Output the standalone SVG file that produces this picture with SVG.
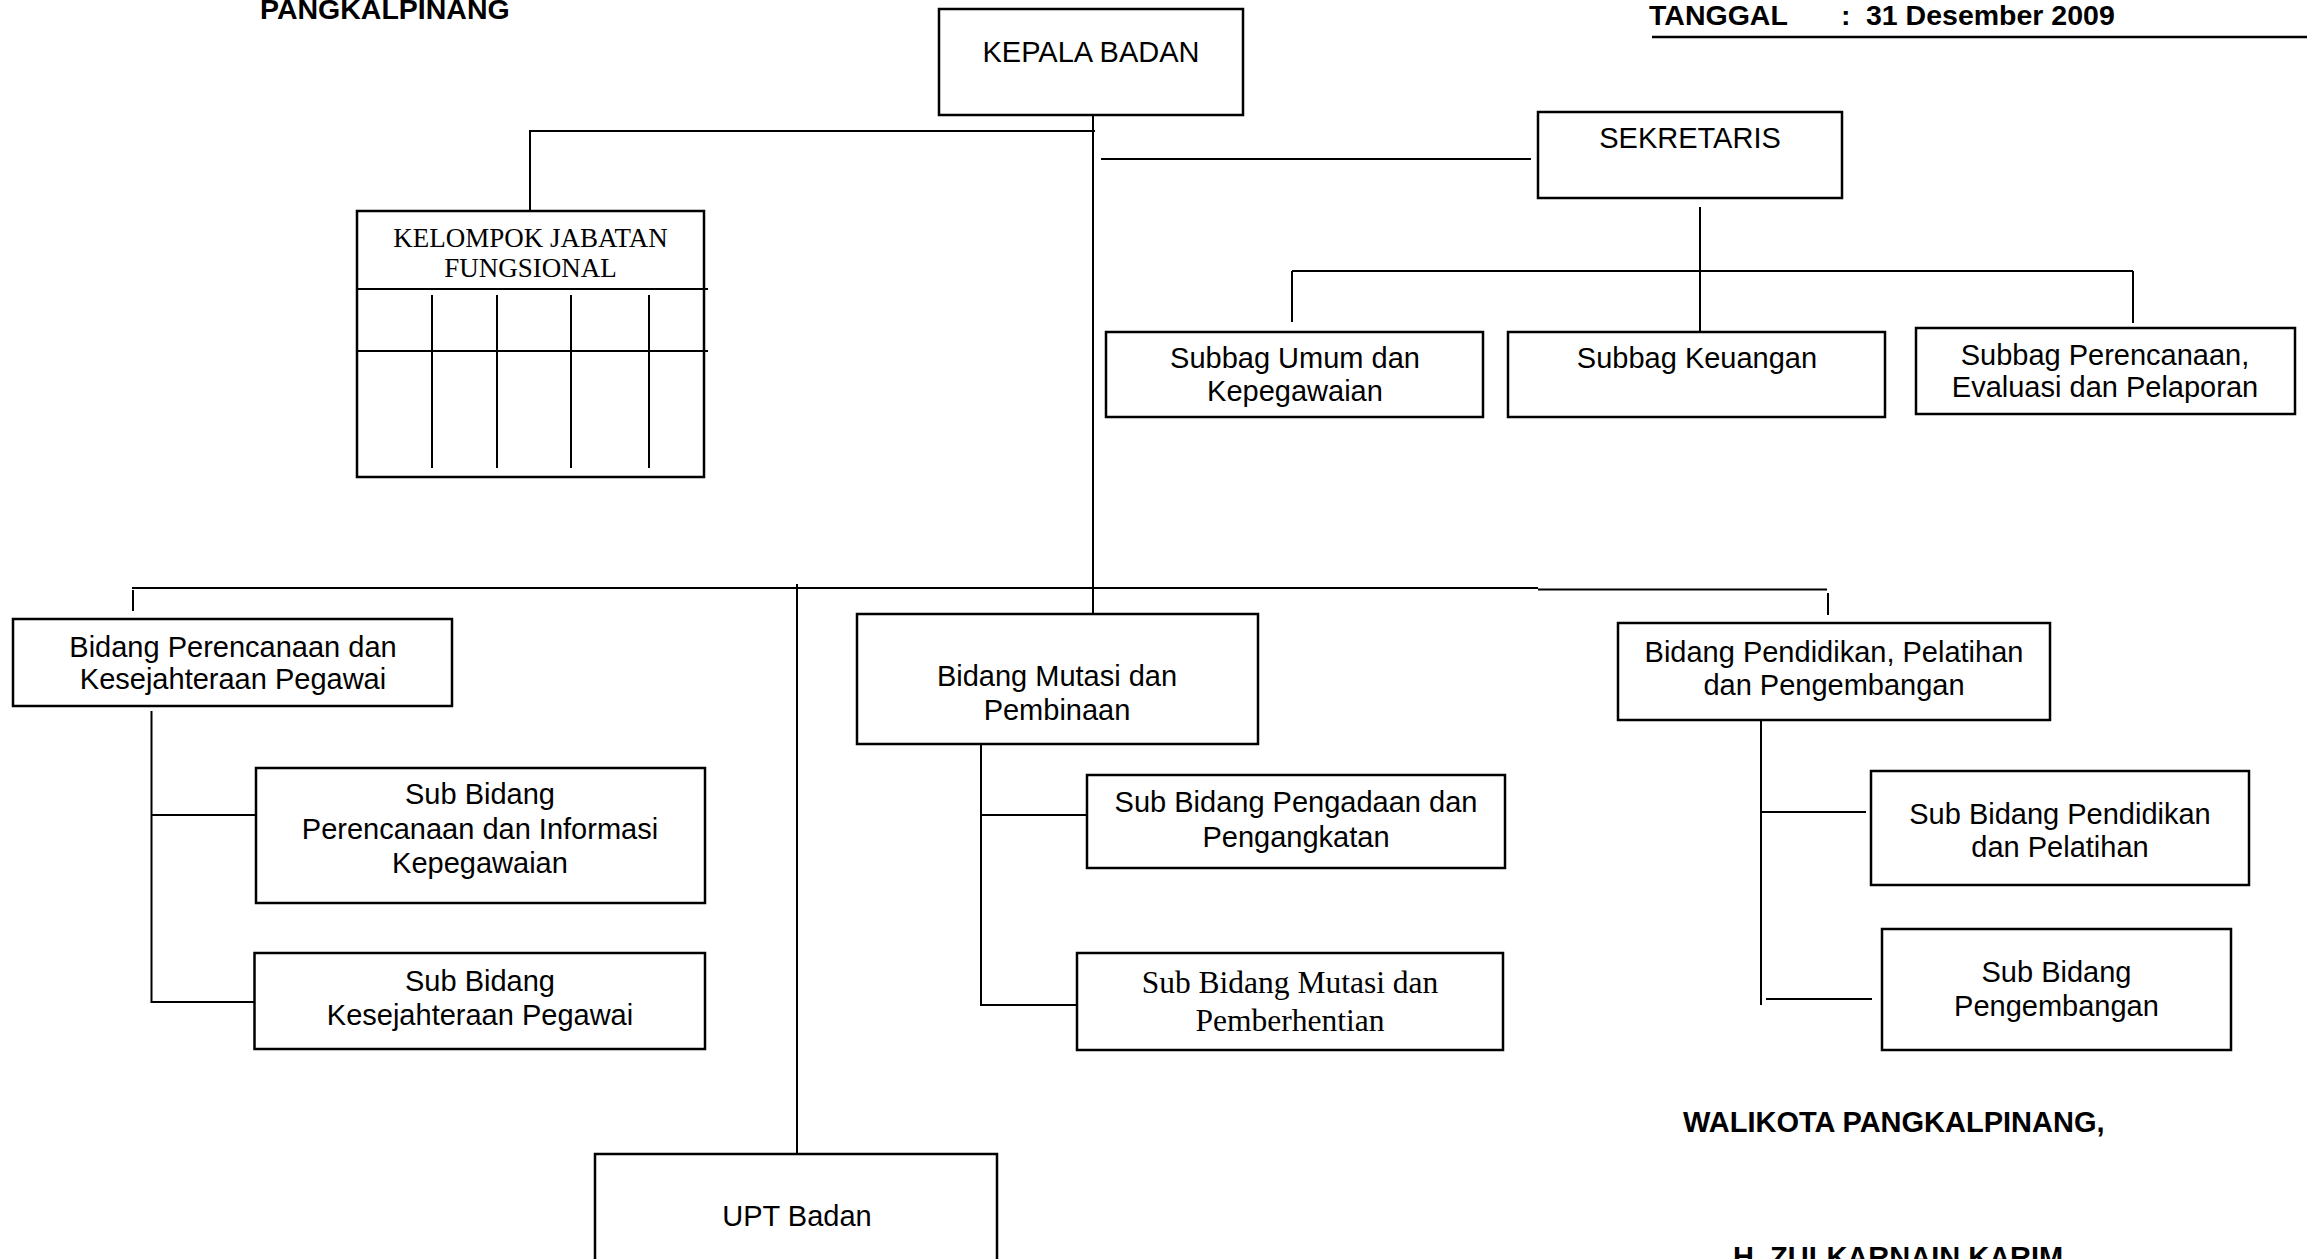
<svg xmlns="http://www.w3.org/2000/svg" width="2307" height="1259" viewBox="0 0 2307 1259">
<style>
.box{fill:#fff;stroke:#000;stroke-width:2.5}
.ln{stroke:#000;stroke-width:2;fill:none}
.t{font-family:"Liberation Sans",Arial,sans-serif;font-size:29px;fill:#000;text-anchor:middle}
.s{font-family:"Liberation Serif","Times New Roman",serif;fill:#000;text-anchor:middle}
.h{font-family:"Liberation Sans",Arial,sans-serif;font-size:28.5px;font-weight:bold;fill:#000}
</style>
<rect width="2307" height="1259" fill="#fff"/>
<g id="header">
<text class="h" x="260" y="19">PANGKALPINANG</text>
<text class="h" x="1649" y="25">TANGGAL</text>
<text class="h" x="1841" y="25">:</text>
<text class="h" x="1866" y="25">31 Desember 2009</text>
<line class="ln" x1="1652" y1="37" x2="2307" y2="37" style="stroke-width:2.5"/>
<text class="h" x="1683" y="1132" style="font-size:29px">WALIKOTA PANGKALPINANG,</text>
<text class="h" x="1733" y="1267" style="font-size:29px">H. ZULKARNAIN KARIM</text>
</g>
<g id="connectors">
<line class="ln" x1="1093" y1="115" x2="1093" y2="616"/>
<polyline class="ln" points="1095,131 530,131 530,211"/>
<line class="ln" x1="1101" y1="159" x2="1531" y2="159"/>
<line class="ln" x1="1700" y1="207" x2="1700" y2="332"/>
<line class="ln" x1="1292" y1="271" x2="2133" y2="271"/>
<line class="ln" x1="1292" y1="271" x2="1292" y2="322"/>
<line class="ln" x1="2133" y1="271" x2="2133" y2="323"/>
<line class="ln" x1="132" y1="588" x2="1538" y2="588"/>
<line class="ln" x1="1538" y1="589.5" x2="1827" y2="589.5"/>
<line class="ln" x1="133" y1="590" x2="133" y2="611"/>
<line class="ln" x1="1828" y1="593" x2="1828" y2="615"/>
<line class="ln" x1="797" y1="584" x2="797" y2="1161"/>
<line class="ln" x1="151.5" y1="711" x2="151.5" y2="1003"/>
<line class="ln" x1="151.5" y1="815" x2="256" y2="815"/>
<line class="ln" x1="151.5" y1="1002" x2="254" y2="1002"/>
<line class="ln" x1="981" y1="740" x2="981" y2="1006"/>
<line class="ln" x1="981" y1="815" x2="1087" y2="815"/>
<line class="ln" x1="981" y1="1005" x2="1077" y2="1005"/>
<line class="ln" x1="1761" y1="716" x2="1761" y2="1005"/>
<line class="ln" x1="1761" y1="812" x2="1866" y2="812"/>
<line class="ln" x1="1766" y1="999" x2="1872" y2="999"/>
</g>
<g id="kepala">
<rect class="box" x="939" y="9" width="304" height="106"/>
<text class="t" x="1091" y="62">KEPALA BADAN</text>
</g>
<g id="sekretaris">
<rect class="box" x="1538" y="112" width="304" height="86"/>
<text class="t" x="1690" y="148">SEKRETARIS</text>
</g>
<g id="kjf">
<rect class="box" x="357" y="211" width="347" height="266"/>
<text class="s" x="530.5" y="247" font-size="27">KELOMPOK JABATAN</text>
<text class="s" x="530.5" y="277" font-size="27">FUNGSIONAL</text>
<line class="ln" x1="357" y1="289" x2="708" y2="289"/>
<line class="ln" x1="357" y1="351" x2="708" y2="351"/>
<line class="ln" x1="432" y1="295" x2="432" y2="468"/>
<line class="ln" x1="497" y1="295" x2="497" y2="468"/>
<line class="ln" x1="571" y1="295" x2="571" y2="468"/>
<line class="ln" x1="649" y1="295" x2="649" y2="468"/>
</g>
<g id="subbag-umum">
<rect class="box" x="1106" y="332" width="377" height="85"/>
<text class="t" x="1295" y="368">Subbag Umum dan</text>
<text class="t" x="1295" y="401">Kepegawaian</text>
</g>
<g id="subbag-keuangan">
<rect class="box" x="1508" y="332" width="377" height="85"/>
<text class="t" x="1697" y="368">Subbag Keuangan</text>
</g>
<g id="subbag-perencanaan">
<rect class="box" x="1916" y="328" width="379" height="86"/>
<text class="t" x="2105" y="365">Subbag Perencanaan,</text>
<text class="t" x="2105" y="397">Evaluasi dan Pelaporan</text>
</g>
<g id="bidang-perencanaan">
<rect class="box" x="13" y="619" width="439" height="87"/>
<text class="t" x="233" y="657">Bidang Perencanaan dan</text>
<text class="t" x="233" y="689">Kesejahteraan Pegawai</text>
</g>
<g id="sub-perencanaan-informasi">
<rect class="box" x="256" y="768" width="449" height="135"/>
<text class="t" x="480" y="804">Sub Bidang</text>
<text class="t" x="480" y="839">Perencanaan dan Informasi</text>
<text class="t" x="480" y="873">Kepegawaian</text>
</g>
<g id="sub-kesejahteraan">
<rect class="box" x="254.5" y="953" width="450.5" height="96"/>
<text class="t" x="480" y="991">Sub Bidang</text>
<text class="t" x="480" y="1025">Kesejahteraan Pegawai</text>
</g>
<g id="upt">
<rect class="box" x="595" y="1154" width="402" height="120"/>
<text class="t" x="797" y="1226">UPT Badan</text>
</g>
<g id="bidang-mutasi">
<rect class="box" x="857" y="614" width="401" height="130"/>
<text class="t" x="1057" y="686">Bidang Mutasi dan</text>
<text class="t" x="1057" y="720">Pembinaan</text>
</g>
<g id="sub-pengadaan">
<rect class="box" x="1087" y="775" width="418" height="93"/>
<text class="t" x="1296" y="812">Sub Bidang Pengadaan dan</text>
<text class="t" x="1296" y="847">Pengangkatan</text>
</g>
<g id="sub-mutasi">
<rect class="box" x="1077" y="953" width="426" height="97"/>
<text class="s" x="1290" y="993" font-size="31.5">Sub Bidang Mutasi dan</text>
<text class="s" x="1290" y="1031" font-size="31.5">Pemberhentian</text>
</g>
<g id="bidang-pendidikan">
<rect class="box" x="1618" y="623" width="432" height="97"/>
<text class="t" x="1834" y="662">Bidang Pendidikan, Pelatihan</text>
<text class="t" x="1834" y="695">dan Pengembangan</text>
</g>
<g id="sub-pendidikan">
<rect class="box" x="1871" y="771" width="378" height="114"/>
<text class="t" x="2060" y="824">Sub Bidang Pendidikan</text>
<text class="t" x="2060" y="857">dan Pelatihan</text>
</g>
<g id="sub-pengembangan">
<rect class="box" x="1882" y="929" width="349" height="121"/>
<text class="t" x="2056.5" y="982">Sub Bidang</text>
<text class="t" x="2056.5" y="1016">Pengembangan</text>
</g>
</svg>
